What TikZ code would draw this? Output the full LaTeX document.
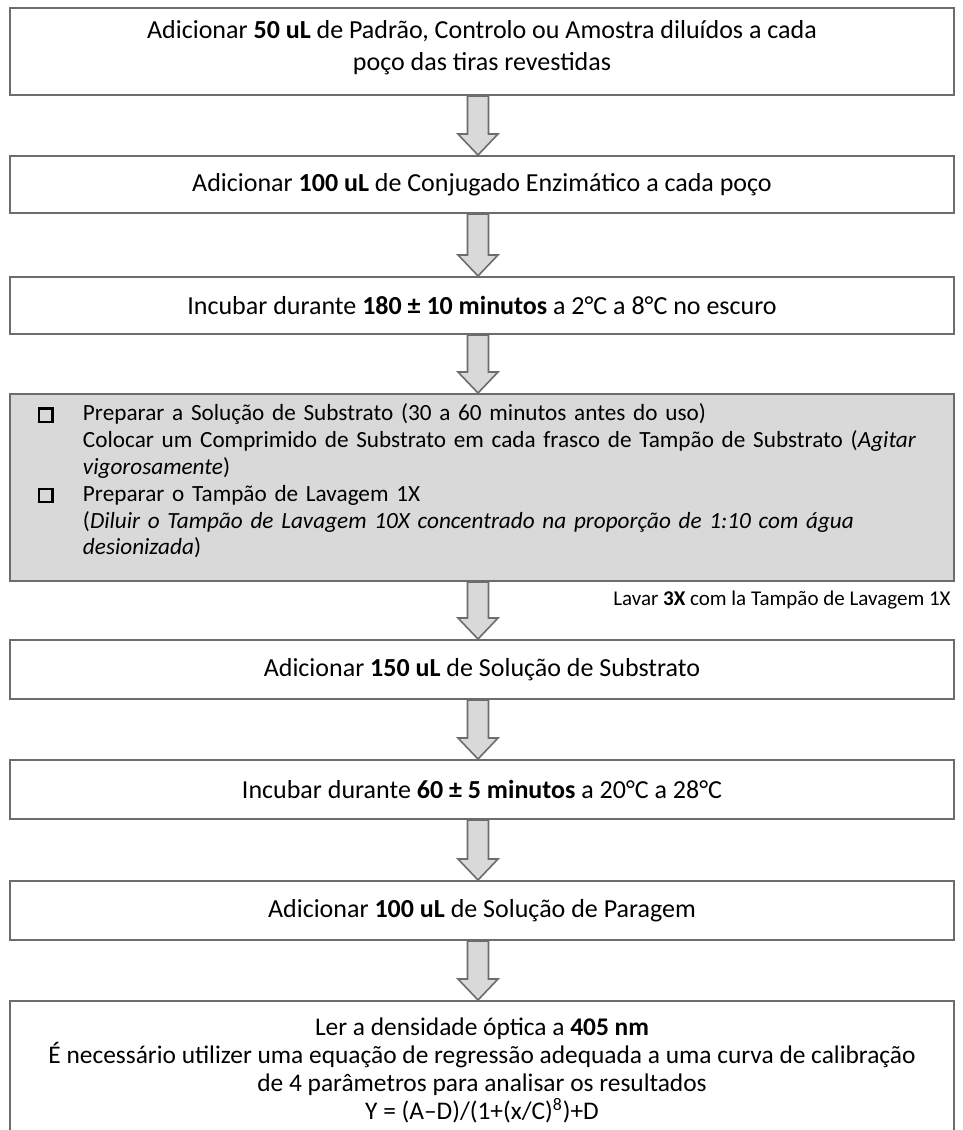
\documentclass[tikz,border=0pt]{standalone}
\usepackage{fontspec}
\setmainfont{Carlito}
\usetikzlibrary{calc}

\newcommand{\tickbox}{{\setlength{\fboxsep}{0pt}\setlength{\fboxrule}{1.1pt}\fbox{\rule{0pt}{5.6pt}\hspace{5.6pt}}}}
\newcommand{\flowarrow}[2]{%
  \draw[fatarrow] let \p1=(#1.south), \p2=(#2.north) in
    (\x1-7.25pt,\y1) -- (\x1-7.25pt,\y2+10.5pt) -- (\x1-12pt,\y2+10.5pt) -- (\x1-2pt,\y2)
    -- (\x1+8pt,\y2+10.5pt) -- (\x1+3.25pt,\y2+10.5pt) -- (\x1+3.25pt,\y1) -- cycle;}

\begin{document}
\begin{tikzpicture}[x=0.5pt, y=-0.5pt,
    every node/.style={font=\fontsize{13}{15.5}\selectfont, inner sep=0pt},
    stepbox/.style={draw=gray!85!black, line width=1pt, fill=white, minimum width=472pt, align=center},
    prepbox/.style={stepbox, fill=gray!30, align=left, text width=444pt, inner xsep=14pt, font=\fontsize{11.6}{13.4}\selectfont},
    fatarrow/.style={draw=gray!85!black, line width=0.8pt, fill=gray!30, line join=miter}
  ]
  \useasboundingbox (0,0) rectangle (963,1130);
  \clip (0,0) rectangle (963,1130);

  \node[stepbox, minimum height=43.5pt, font=\fontsize{13}{16}\selectfont] (add) at (482,51.5)
    {\begin{tabular}{@{}c@{}}Adicionar \textbf{50 uL} de Padrão, Controlo ou Amostra diluídos a cada\\poço das tiras revestidas\\[3pt]\end{tabular}};
  \node[stepbox, minimum height=28.5pt] (conj) at (482,184.5)
    {Adicionar \textbf{100 uL} de Conjugado Enzimático a cada poço};
  \node[stepbox, minimum height=28.5pt] (incdark) at (482,305.5)
    {Incubar durante \textbf{180 ± 10 minutos} a 2°C a 8°C no escuro};
  \node[prepbox, minimum height=93.5pt] (prep) at (482,487.5)
    {\begin{tabular}{@{}p{22.5pt}@{}l@{}}
      \tickbox & Preparar a Solução de Substrato (30 a 60 minutos antes do uso)\\
      & Colocar um Comprimido de Substrato em cada frasco de Tampão de Substrato (\textit{Agitar}\\
      & \textit{vigorosamente})\\
      \tickbox & Preparar o Tampão de Lavagem 1X\\
      & (\textit{Diluir o Tampão de Lavagem 10X concentrado na proporção de 1:10 com água}\\
      & \textit{desionizada})\\[5pt]
    \end{tabular}};
  \node[font=\fontsize{10.5}{12}\selectfont, anchor=east] (wash) at (951,600)
    {Lavar \textbf{3X} com la Tampão de Lavagem 1X};
  \node[stepbox, minimum height=29.5pt] (subst) at (482,669.5)
    {Adicionar \textbf{150 uL} de Solução de Substrato};
  \node[stepbox, minimum height=29.5pt] (incroom) at (482,789.5)
    {Incubar durante \textbf{60 ± 5 minutos} a 20°C a 28°C};
  \node[stepbox, minimum height=29.5pt] (stop) at (482,910.5)
    {Adicionar \textbf{100 uL} de Solução de Paragem};
  \node[stepbox, minimum height=69pt, font=\fontsize{12.7}{14}\selectfont] (read) at (482,1070)
    {Ler a densidade óptica a \textbf{405 nm}\\
     É necessário utilizer uma equação de regressão adequada a uma curva de calibração\\
     de 4 parâmetros para analisar os resultados\\
     Y = (A–D)/(1+(x/C)\textsuperscript{8})+D};

  \flowarrow{add}{conj}
  \flowarrow{conj}{incdark}
  \flowarrow{incdark}{prep}
  \flowarrow{prep}{subst}
  \flowarrow{subst}{incroom}
  \flowarrow{incroom}{stop}
  \flowarrow{stop}{read}
\end{tikzpicture}
\end{document}
